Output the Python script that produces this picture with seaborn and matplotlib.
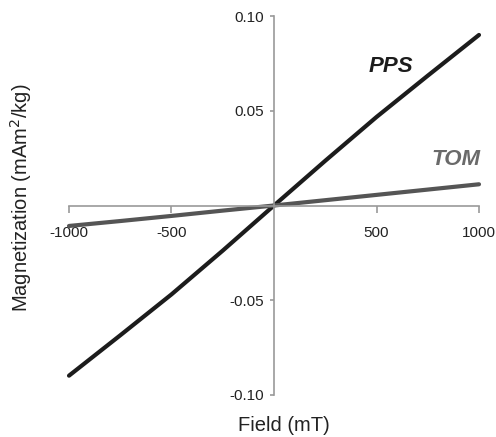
import matplotlib
matplotlib.use("Agg")
import matplotlib.pyplot as plt
import seaborn as sns
import pandas as pd

field_mT = [-1000, -750, -500, -250, 0, 250, 500, 750, 1000]
pps_mag = [-0.0898, -0.0685, -0.0469, -0.0238, 0.0000, 0.0236, 0.0467, 0.0685, 0.0900]
tom_mag = [-0.0108, -0.0082, -0.0055, -0.0027, 0.0000, 0.0028, 0.0056, 0.0084, 0.0112]

x_ticks = [-1000, -500, 500, 1000]
y_ticks = [-0.10, -0.05, 0.05, 0.10]
y_tick_labels = ["-0.10", "-0.05", "0.05", "0.10"]

sns.set_theme(style="white")
plt.rcParams['font.family'] = ['Liberation Sans', 'DejaVu Sans']

df = pd.concat([
    pd.DataFrame({"Field": field_mT, "Mag": pps_mag, "Sample": "PPS"}),
    pd.DataFrame({"Field": field_mT, "Mag": tom_mag, "Sample": "TOM"}),
])

fig = plt.figure(figsize=(4.96, 4.37), dpi=100)
ax = fig.add_axes([69/496, 1-395/437, 410/496, 379/437])

sns.lineplot(data=df, x="Field", y="Mag", hue="Sample",
             palette={"PPS": "#1c1c1c", "TOM": "#555555"},
             linewidth=3.0, legend=False, ax=ax, sort=False)
for ln in ax.lines:
    ln.set_clip_on(False)
    ln.set_solid_capstyle('round')

ax.set_xlim(-1000, 1000)
ax.set_ylim(-0.10, 0.10)

for s in ["top", "right"]:
    ax.spines[s].set_visible(False)
ax.spines["left"].set_position(("data", 0))
ax.spines["bottom"].set_position(("data", 0))
for s in ["left", "bottom"]:
    ax.spines[s].set_color("#999999")
    ax.spines[s].set_linewidth(1.2)

ax.set_xticks(x_ticks)
ax.set_xticklabels([str(v) for v in x_ticks])
ax.set_yticks(y_ticks)
ax.set_yticklabels(y_tick_labels)
ax.tick_params(axis="x", direction="out", length=5, width=1.2, color="#999999",
               pad=9.5, labelsize=11, labelcolor="#222222", bottom=True)
ax.tick_params(axis="y", direction="out", length=3, width=1.2, color="#999999",
               pad=4, labelsize=11, labelcolor="#222222", left=True)

ax.set_xlabel("Field (mT)", fontsize=14.5, color="#222222")
ax.set_ylabel("Magnetization (mAm$^2$/kg)", fontsize=14.5, color="#222222")
ax.xaxis.set_label_coords(0.524, -0.056)
ax.yaxis.set_label_coords(-0.086, 0.52)

ax.text(570, 0.0736, "PPS", fontsize=16, fontweight="bold", fontstyle="italic",
        color="#1c1c1c", ha="center", va="center")
ax.text(888, 0.0245, "TOM", fontsize=16, fontweight="bold", fontstyle="italic",
        color="#6a6a6a", ha="center", va="center")

fig.savefig("out.png", dpi=100)
